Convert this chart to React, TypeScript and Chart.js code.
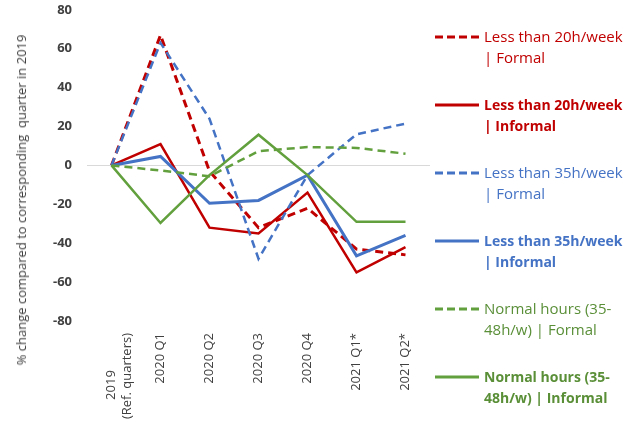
import React, { useEffect, useRef } from "react";
import { Chart, registerables } from "chart.js";

Chart.register(...registerables);

const categories: (string | string[])[] = [
  ["2019           ", "(Ref. quarters)"],
  "2020 Q1",
  "2020 Q2",
  "2020 Q3",
  "2020 Q4",
  "2021 Q1*",
  "2021 Q2*",
];

const less20Formal = [0, 67, -3, -32, -22, -43, -46];
const less20Informal = [0, 11, -32, -35, -14, -55, -42];
const less35Formal = [0, 63, 24, -48, -5, 16, 21.5];
const less35Informal = [0, 4.6, -19.5, -18, -5, -46.5, -36];
const normalFormal = [0, -2.6, -5.6, 7.3, 9.4, 9, 6];
const normalInformal = [0, -29.6, -5, 15.8, -5, -29, -29];

const yTicks = [-80, -60, -40, -20, 0, 20, 40, 60, 80];

const RED = "#C00000";
const BLUE = "#4472C4";
const GREEN = "#62A03E";
const GREEN_TEXT = "#5A8F38";
const FONT = "'Open Sans', 'Noto Sans', sans-serif";

const series = [
  { label: ["Less than 20h/week", "| Formal"], data: less20Formal, color: RED, text: RED, dashed: true, bold: false, width: 3 },
  { label: ["Less than 20h/week", "| Informal"], data: less20Informal, color: RED, text: RED, dashed: false, bold: true, width: 2.5 },
  { label: ["Less than 35h/week", "| Formal"], data: less35Formal, color: BLUE, text: BLUE, dashed: true, bold: false, width: 2.5 },
  { label: ["Less than 35h/week", "| Informal"], data: less35Informal, color: BLUE, text: BLUE, dashed: false, bold: true, width: 3 },
  { label: ["Normal hours (35-", "48h/w) | Formal"], data: normalFormal, color: GREEN, text: GREEN_TEXT, dashed: true, bold: false, width: 2.5 },
  { label: ["Normal hours (35-", "48h/w) | Informal"], data: normalInformal, color: GREEN, text: GREEN_TEXT, dashed: false, bold: true, width: 2.5 },
];

const SHIFT = 13;

export default function App() {
  const ref = useRef<HTMLCanvasElement>(null);

  useEffect(() => {
    if (!ref.current) return;
    const chart = new Chart(ref.current, {
      type: "line",
      data: {
        labels: categories,
        datasets: series.map((s, i) => ({
          label: s.label.join(" "),
          data: s.data,
          borderColor: s.color,
          backgroundColor: s.color,
          borderWidth: s.width,
          borderDash: s.dashed ? [8, 5] : [],
          pointRadius: 0,
          tension: 0,
          fill: false,
          order: 10 - i,
        })),
      },
      options: {
        animation: false,
        responsive: false,
        maintainAspectRatio: false,
        layout: { padding: { top: 9, right: 10, left: 0, bottom: 0 } },
        plugins: { legend: { display: false }, tooltip: { enabled: false }, title: { display: false } },
        scales: {
          x: {
            offset: true,
            grid: { display: false, drawTicks: false, offset: true },
            border: { display: false },
            ticks: {
              minRotation: 90,
              maxRotation: 90,
              padding: 12,
              color: "#404040",
              font: { family: FONT, size: 13 },
              autoSkip: false,
            },
            afterFit: (scale: any) => {
              scale.height = 424 - 321;
            },
          },
          y: {
            min: -80,
            max: 80,
            afterBuildTicks: (scale: any) => {
              scale.ticks = yTicks.map((v) => ({ value: v }));
            },
            grid: {
              drawTicks: false,
              color: (ctx: any) => (ctx.tick && ctx.tick.value === 0 ? "#D9D9D9" : "rgba(0,0,0,0)"),
              lineWidth: 1,
            },
            border: { display: false },
            ticks: {
              padding: 15,
              color: "#404040",
              font: { family: FONT, size: 13, weight: "bold" },
            },
            afterFit: (scale: any) => {
              scale.width = 87;
            },
          },
        },
      },
    });
    return () => chart.destroy();
  }, []);

  return (
    <div style={{ position: "absolute", left: 0, top: 0, width: 642, height: 424, background: "#fff", overflow: "hidden" }}>
      <canvas
        ref={ref}
        width={440}
        height={424 + SHIFT}
        style={{ position: "absolute", left: 0, top: -SHIFT, width: 440, height: 424 + SHIFT }}
      />
      <div
        style={{
          position: "absolute",
          left: 21,
          top: 200,
          transform: "translate(-50%, -50%) rotate(-90deg)",
          whiteSpace: "pre",
          fontFamily: FONT,
          fontSize: 13,
          color: "#404040",
          lineHeight: "16px",
        }}
      >
        {"% change compared to corresponding  quarter in 2019"}
      </div>
      {series.map((s, i) => {
        const y = 37 + i * 68;
        return (
          <div key={i}>
            <svg style={{ position: "absolute", left: 434, top: y - 3 }} width={46} height={6}>
              <line
                x1={1}
                y1={3}
                x2={45}
                y2={3}
                stroke={s.color}
                strokeWidth={3}
                strokeDasharray={s.dashed ? "8 4" : undefined}
              />
            </svg>
            <div
              style={{
                position: "absolute",
                left: 484,
                top: y - 11,
                fontFamily: FONT,
                fontSize: s.bold ? 14 : 15,
                lineHeight: "21px",
                color: s.text,
                fontWeight: s.bold ? "bold" : "normal",
                whiteSpace: "pre",
              }}
            >
              {s.label[0]}
              <br />
              {s.label[1]}
            </div>
          </div>
        );
      })}
    </div>
  );
}
